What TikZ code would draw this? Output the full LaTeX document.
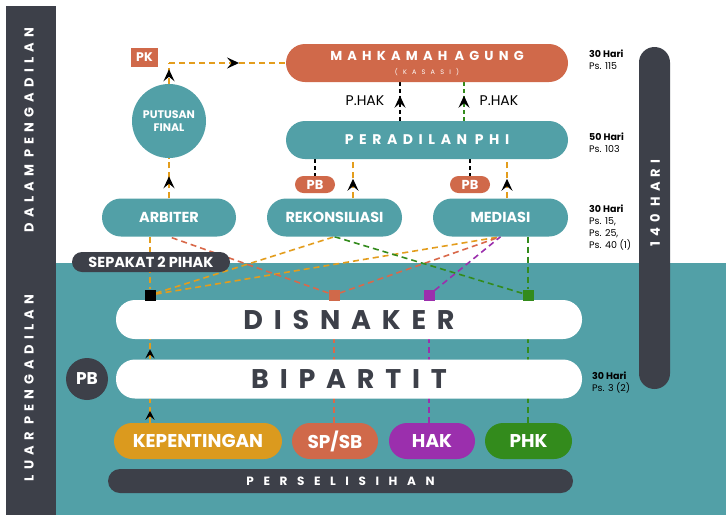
\documentclass[tikz,border=0pt]{standalone}
\usepackage{fontspec}
\setmainfont{Poppins}
\newfontfamily\widefont[LetterSpace=40]{Poppins}
\newfontfamily\widerfont[LetterSpace=80]{Poppins}
\newcommand{\wgap}{\hspace{0.55em}}
\usetikzlibrary{arrows.meta, calc, decorations.markings}

\definecolor{darkgrey}{HTML}{3D4049}
\definecolor{tealmain}{HTML}{52A0A7}
\definecolor{orangemain}{HTML}{D0694A}
\definecolor{yellowmain}{HTML}{DB9A1E}
\definecolor{yellowline}{HTML}{E39D1D}
\definecolor{orangeline}{HTML}{D9694A}
\definecolor{purplemain}{HTML}{9B2FAD}
\definecolor{greenmain}{HTML}{338B1C}

\pgfdeclarelayer{bg}
\pgfdeclarelayer{edges}
\pgfsetlayers{bg,edges,main}

\begin{document}
\begin{tikzpicture}[x=1pt, y=-1pt,
    pill/.style={rectangle, rounded corners=19pt, minimum height=38pt, inner sep=0pt, text=white, font=\bfseries\fontsize{14.5}{16}\selectfont},
    smallpill/.style={rectangle, rounded corners=8.5pt, minimum height=17pt, minimum width=40pt, inner sep=0pt, fill=orangemain, text=white, font=\bfseries\fontsize{13}{14}\selectfont},
    basepill/.style={pill, minimum height=36pt, rounded corners=18pt, font=\bfseries\fontsize{18.5}{20}\selectfont},
    marker/.style={rectangle, minimum size=11pt, inner sep=0pt},
    link/.style={dash pattern=on 6pt off 4pt, line width=1.6pt},
    thinlink/.style={dash pattern=on 4pt off 3pt, line width=1.1pt},
    note/.style={anchor=north west, align=left, inner sep=0pt, font=\fontsize{9.5}{12}\selectfont},
    sidetext/.style={rotate=90, text=white, inner sep=0pt, font=\widefont\bfseries\fontsize{13}{14}\selectfont},
    headat/.style={postaction={decorate, decoration={markings, mark=at position #1 with {\arrow[black]{Stealth[length=12pt, width=11pt, inset=4.5pt]}}}}},
    smallheadat/.style={postaction={decorate, decoration={markings, mark=at position #1 with {\arrow[black]{Stealth[length=9pt, width=9pt, inset=3.5pt]}}}}}]
    \useasboundingbox (0,0) rectangle (726,515);

    \begin{pgfonlayer}{bg}
        \fill[white] (0,0) rectangle (726,515);
        \fill[tealmain] (56,263) rectangle (726,515);
        \fill[darkgrey] (6,6) rectangle (56,515);
        \fill[darkgrey, rounded corners=15.5pt] (639,47) rectangle (670,389);
    \end{pgfonlayer}

    % Side labels
    \node[sidetext] (dalam) at (29,130) {DALAM\wgap PENGADILAN};
    \node[sidetext] (luar) at (29,388) {LUAR\wgap PENGADILAN};
    \node[sidetext] (hari) at (655,203) {140\wgap HARI};

    % Dalam pengadilan
    \node[pill, fill=orangemain, minimum width=282pt, align=center, font=\widefont\bfseries\fontsize{13}{14}\selectfont] (ma) at (427,63) {MAHKAMAH\wgap AGUNG\\{\widerfont\mdseries\fontsize{6.5}{8}\selectfont(KASASI)}};
    \node[pill, fill=tealmain, minimum width=282pt, font=\widefont\bfseries\fontsize{14}{16}\selectfont] (phi) at (427,140) {PERADILAN\wgap PHI};
    \node[pill, fill=tealmain, minimum width=134pt] (arb) at (169,217.5) {ARBITER};
    \node[pill, fill=tealmain, minimum width=135pt] (rek) at (334.5,217.5) {REKONSILIASI};
    \node[pill, fill=tealmain, minimum width=135pt] (med) at (500.5,217.5) {MEDIASI};
    \node[circle, fill=tealmain, minimum size=74pt, inner sep=0pt, align=center, text=white, font=\bfseries\fontsize{11}{13.5}\selectfont] (pf) at (169,121) {PUTUSAN\\FINAL};
    \node[rectangle, fill=orangemain, minimum width=27pt, minimum height=19pt, inner sep=0pt, text=white, font=\bfseries\fontsize{12.5}{13}\selectfont] (pk) at (144.5,57.5) {PK};
    \node[smallpill] (pbrek) at (315,184.5) {PB};
    \node[smallpill] (pbmed) at (470,184.5) {PB};
    \node[font=\fontsize{14}{15}\selectfont] (hakl) at (365,101) {P.HAK};
    \node[font=\fontsize{14}{15}\selectfont] (hakr) at (499,101) {P.HAK};

    % Luar pengadilan
    \node[pill, fill=darkgrey, minimum width=158pt, minimum height=20pt, rounded corners=10pt, font=\bfseries\fontsize{14.5}{15}\selectfont] (sepakat) at (151,262) {SEPAKAT 2 PIHAK};
    \node[pill, fill=white, minimum width=466pt, minimum height=39pt, text=darkgrey, font=\widefont\bfseries\fontsize{27}{30}\selectfont] (dis) at (349,319.5) {DISNAKER};
    \node[pill, fill=white, minimum width=466pt, minimum height=39pt, text=darkgrey, font=\widefont\bfseries\fontsize{27}{30}\selectfont] (bip) at (349,379) {BIPARTIT};
    \node[circle, fill=darkgrey, minimum size=42pt, inner sep=0pt, text=white, font=\bfseries\fontsize{17}{18}\selectfont] (pb) at (87,379) {PB};
    \node[basepill, fill=yellowmain, minimum width=168pt] (kep) at (198,441) {KEPENTINGAN};
    \node[basepill, fill=orangemain, minimum width=86pt] (sp) at (335,441) {SP/SB};
    \node[basepill, fill=purplemain, minimum width=86pt] (hak) at (432,441) {HAK};
    \node[basepill, fill=greenmain, minimum width=87pt] (phk) at (528.5,441) {PHK};
    \node[pill, fill=darkgrey, minimum width=465pt, minimum height=24pt, rounded corners=12pt, font=\widerfont\bfseries\fontsize{12}{14}\selectfont] (perselisihan) at (340.5,481) {PERSELISIHAN};

    % Markers
    \node[marker, fill=black] (sqk) at (150,295) {};
    \node[marker, fill=orangemain] (sqsp) at (334,295) {};
    \node[marker, fill=purplemain] (sqhak) at (429,295) {};
    \node[marker, fill=greenmain] (sqphk) at (528,295) {};

    % Notes
    \node[note] (n1) at (589,50) {\textbf{30 Hari}\\Ps. 115};
    \node[note] (n2) at (589,133) {\textbf{50 Hari}\\Ps. 103};
    \node[note] (n3) at (589,205) {\textbf{30 Hari}\\Ps. 15,\\Ps. 25,\\Ps. 40 (1)};
    \node[note] (n4) at (592,372) {\textbf{30 Hari}\\Ps. 3 (2)};

    \begin{pgfonlayer}{edges}
        % Edges
        \coordinate (pkturn) at (pf.north |- ma.west);
        \coordinate (rekup) at ([xshift=18.5pt]rek.north);
        \coordinate (medup) at ([xshift=6.5pt]med.north);
        \draw[link, yellowline, headat=0.55] (arb.north) -- (pf.south);
        \draw[link, yellowline, headat=0.7] (pf.north) -- (pkturn);
        \draw[link, yellowline, headat=0.6] (pkturn) -- (ma.west);
        \draw[thinlink, black, headat=0.65] ([xshift=-27pt]phi.north) -- ([xshift=-27pt]ma.south);
        \draw[thinlink, greenmain, headat=0.65] ([xshift=37pt]phi.north) -- ([xshift=37pt]ma.south);
        \draw[thinlink, black] (pbrek.north |- phi.south) -- (pbrek.north);
        \draw[thinlink, black] (pbmed.north |- phi.south) -- (pbmed.north);
        \draw[link, yellowline, headat=0.5] (rekup) -- (rekup |- phi.south);
        \draw[link, yellowline, headat=0.5] (medup) -- (medup |- phi.south);

        \foreach \source/\target/\col in {sqk/rek/yellowline, sqk/med/yellowline, sqsp/arb/orangeline, sqsp/med/orangeline, sqhak/med/purplemain, sqphk/rek/greenmain} {
                \draw[link, \col] (\source) -- (\target.south);
            }
        \draw[link, yellowline] (arb.south -| sqk) -- (sqk);
        \draw[link, greenmain] (med.south -| sqphk) -- (sqphk);
        \foreach \source/\target/\col in {sp/sqsp/orangeline, hak/sqhak/purplemain, phk/sqphk/greenmain} {
                \draw[link, \col] (\source.north -| \target) -- (\target);
            }
        \draw[link, yellowline, smallheadat=0.5] (kep.north -| sqk) -- (bip.south -| sqk);
        \draw[link, yellowline, smallheadat=0.5] (bip.north -| sqk) -- (dis.south -| sqk);
        \draw[link, yellowline] (dis.north -| sqk) -- (sqk);
    \end{pgfonlayer}
\end{tikzpicture}
\end{document}
